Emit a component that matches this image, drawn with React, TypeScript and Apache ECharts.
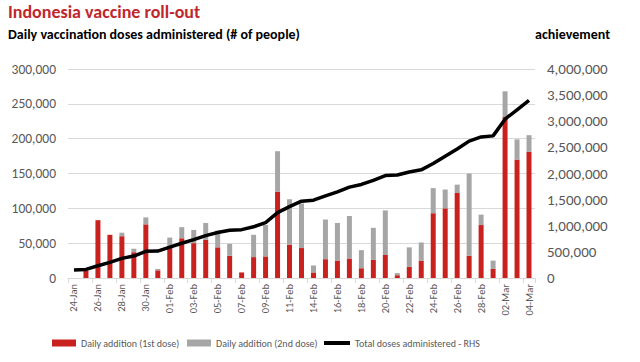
import React, { useEffect, useRef } from "react";
import * as echarts from "echarts";

const dates = [
  "24-Jan", "25-Jan", "26-Jan", "27-Jan", "28-Jan", "29-Jan", "30-Jan", "31-Jan",
  "01-Feb", "02-Feb", "03-Feb", "04-Feb", "05-Feb", "06-Feb", "07-Feb", "08-Feb",
  "09-Feb", "10-Feb", "11-Feb", "12-Feb", "14-Feb", "15-Feb", "16-Feb", "17-Feb",
  "18-Feb", "19-Feb", "20-Feb", "21-Feb", "22-Feb", "23-Feb", "24-Feb", "25-Feb",
  "26-Feb", "27-Feb", "28-Feb", "01-Mar", "02-Mar", "03-Mar", "04-Mar",
];

const firstDose = [
  0, 11000, 83000, 62000, 60000, 37000, 77000, 11000, 46000, 57000, 50000, 55000,
  44000, 32000, 8000, 30000, 31000, 124000, 48000, 43000, 8000, 27000, 25000, 28000,
  14000, 26000, 33000, 4000, 16000, 25000, 93000, 100000, 122000, 32000, 76000, 13000,
  231000, 170000, 181000,
];

const secondDose = [
  0, 0, 0, 0, 5000, 5000, 10000, 2000, 12000, 16000, 19000, 24000, 24000, 17000, 0,
  32000, 45000, 58000, 65000, 64000, 10000, 57000, 54000, 61000, 26000, 46000, 64000,
  3000, 28000, 26000, 36000, 27000, 12000, 118000, 15000, 12000, 37000, 29000, 24000,
];

const totalDoses = [
  155000, 165000, 235000, 300000, 375000, 420000, 510000, 515000, 590000, 665000,
  735000, 810000, 870000, 915000, 925000, 980000, 1060000, 1250000, 1365000, 1470000,
  1490000, 1570000, 1650000, 1740000, 1790000, 1870000, 1960000, 1970000, 2030000,
  2070000, 2190000, 2330000, 2470000, 2620000, 2700000, 2720000, 3040000, 3220000,
  3400000,
];

const seriesNames = [
  "Daily addition (1st dose)",
  "Daily addition (2nd dose)",
  "Total doses administered - RHS",
];

const titleText = "Indonesia vaccine roll-out";
const subtitleText = "Daily vaccination doses administered (# of people)";
const rightTitleText = "achievement";

const FONT = "Carlito, 'Liberation Sans Narrow', Lato, sans-serif";
const fmt = (v: number) => v.toLocaleString("en-US");

export default function App() {
  const ref = useRef<HTMLDivElement>(null);
  useEffect(() => {
    if (!ref.current) return;
    const chart = echarts.init(ref.current, undefined, { renderer: "svg" });
    const legendText = { color: "#595959", fontSize: 10, fontFamily: FONT };
    chart.setOption({
      animation: false,
      backgroundColor: "#ffffff",
      textStyle: { fontFamily: FONT },
      graphic: [
        {
          type: "text",
          left: 8,
          top: 3,
          style: { text: titleText, fill: "#c0272d", font: `bold 18px ${FONT}` },
        },
        {
          type: "text",
          left: 8,
          top: 27,
          style: { text: subtitleText, fill: "#000000", font: `bold 14px ${FONT}` },
        },
        {
          type: "text",
          right: 30,
          top: 27,
          style: { text: rightTitleText, fill: "#000000", font: `bold 14px ${FONT}` },
        },
      ],
      legend: [
        {
          left: 47,
          top: 333,
          itemWidth: 24,
          itemHeight: 7,
          itemGap: 4,
          textStyle: legendText,
          data: [{ name: seriesNames[0], icon: "rect" }],
        },
        {
          left: 182,
          top: 333,
          itemWidth: 24,
          itemHeight: 7,
          itemGap: 4,
          textStyle: legendText,
          data: [{ name: seriesNames[1], icon: "rect" }],
        },
        {
          left: 319,
          top: 333,
          itemWidth: 26,
          itemHeight: 4,
          itemGap: 4,
          textStyle: legendText,
          data: [{ name: seriesNames[2], icon: "rect", itemStyle: { color: "#000000" } }],
        },
      ],
      grid: { left: 68, right: 105, top: 69, bottom: 84, containLabel: false },
      xAxis: {
        type: "category",
        data: dates,
        boundaryGap: true,
        axisLine: { lineStyle: { color: "#d9d9d9", width: 1 } },
        axisTick: { show: true, interval: 1, length: 5, lineStyle: { color: "#d9d9d9" } },
        axisLabel: {
          interval: 1,
          rotate: 90,
          color: "#595959",
          fontSize: 10.5,
          fontFamily: FONT,
          margin: 6,
        },
      },
      yAxis: [
        {
          type: "value",
          min: 0,
          max: 300000,
          interval: 50000,
          axisLine: { show: false },
          axisTick: { show: false },
          splitLine: { lineStyle: { color: "#d9d9d9", width: 1 } },
          axisLabel: { formatter: fmt, color: "#595959", fontSize: 13.5, fontFamily: FONT, margin: 12 },
        },
        {
          type: "value",
          min: 0,
          max: 4000000,
          interval: 500000,
          axisLine: { show: false },
          axisTick: { show: false },
          splitLine: { show: false },
          axisLabel: { formatter: fmt, color: "#595959", fontSize: 15, fontFamily: FONT, margin: 12 },
        },
      ],
      series: [
        {
          name: seriesNames[0],
          type: "bar",
          stack: "daily",
          data: firstDose,
          barWidth: 5,
          itemStyle: { color: "#c9211e" },
        },
        {
          name: seriesNames[1],
          type: "bar",
          stack: "daily",
          data: secondDose,
          barWidth: 5,
          itemStyle: { color: "#a6a6a6" },
        },
        {
          name: seriesNames[2],
          type: "line",
          yAxisIndex: 1,
          data: totalDoses,
          symbol: "none",
          lineStyle: { color: "#000000", width: 3.5 },
          itemStyle: { color: "#000000" },
        },
      ],
    });
    return () => chart.dispose();
  }, []);
  return (
    <div
      ref={ref}
      style={{ position: "fixed", left: 0, top: 0, width: 640, height: 362 }}
    />
  );
}
